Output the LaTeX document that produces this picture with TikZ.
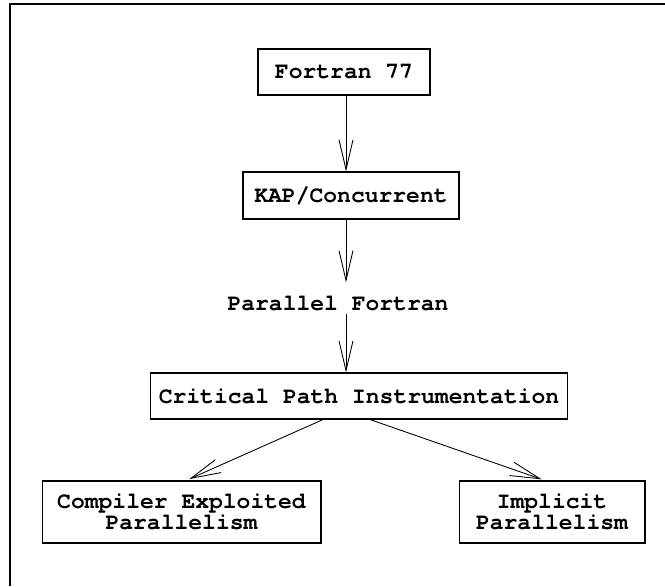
\documentclass[tikz,border=0pt]{standalone}
\usepackage{fontspec}
\setmonofont{texgyrecursor}[Extension=.otf, UprightFont=*-regular, BoldFont=*-bold]
\usetikzlibrary{arrows.meta, positioning}

\begin{document}
\begin{tikzpicture}[x=0.02cm, y=-0.02cm,
            stage/.style={rectangle, draw, line width=0.6pt, inner sep=0pt, align=center, font=\ttfamily\bfseries\fontsize{13.1}{12.2}\selectfont},
            label/.style={inner sep=2pt, font=\ttfamily\bfseries\fontsize{13.1}{12.2}\selectfont},
            flow/.style={-{Straight Barb[length=17pt, width=8pt]}, line width=0.5pt}
        ]
            \useasboundingbox (0,0) rectangle (665,586);

            % Frame
            \draw[line width=0.8pt] (10,586) -- (10,4) -- (665,4);

            % Stages
            \node[stage, minimum width=3.44cm, minimum height=0.92cm] (f77) at (344,72) {Fortran 77};
            \node[stage, minimum width=4.32cm, minimum height=0.94cm] (kap) at (351,195.5) {KAP/Concurrent};
            \node[label] (pf) at (338,303) {Parallel Fortran};
            \node[stage, minimum width=8.36cm, minimum height=0.92cm] (crit) at (359,396) {Critical Path Instrumentation};
            \node[stage, minimum width=5.58cm, minimum height=1.24cm] (cep) at (181.5,512) {Compiler Exploited\\Parallelism};
            \node[stage, minimum width=3.72cm, minimum height=1.24cm] (imp) at (552,512) {Implicit\\Parallelism};

            % Spine of the vertical flow
            \coordinate (spine) at (346,0);

            % Flow
            \draw[flow] (f77.south -| spine) -- (kap.north -| spine);
            \draw[flow, shorten >=5.4pt] (kap.south -| spine) -- (pf.north -| spine);
            \draw[flow] (pf.south -| spine) -- (crit.north -| spine);
            \draw[flow, shorten >=2pt] ([xshift=-0.72cm]crit.south) -- ([xshift=0.09cm]cep.north);
            \draw[flow, shorten >=2pt] ([xshift=0.22cm]crit.south) -- ([xshift=-0.14cm]imp.north);
        \end{tikzpicture}
\end{document}
